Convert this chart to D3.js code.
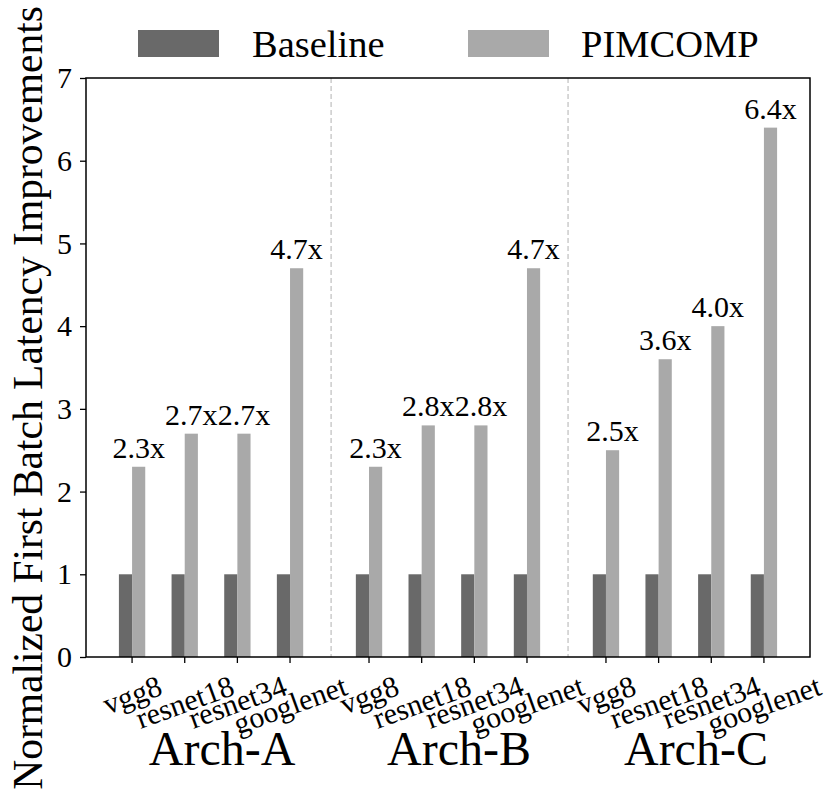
<!DOCTYPE html>
<html>
<head>
<meta charset="utf-8">
<script src="https://cdn.jsdelivr.net/npm/d3@7"></script>
<style>
  body { margin: 0; background: #fff; }
  text { font-family: "Liberation Serif", "DejaVu Serif", serif; fill: #000; }
</style>
</head>
<body>
<div id="chart"></div>
<script>
const archs = ['Arch-A', 'Arch-B', 'Arch-C']
const models = ['vgg8', 'resnet18', 'resnet34', 'googlenet']
const baseline = [
  [1, 1, 1, 1],
  [1, 1, 1, 1],
  [1, 1, 1, 1]
]
const pimcomp = [
  [2.3, 2.7, 2.7, 4.7],
  [2.3, 2.8, 2.8, 4.7],
  [2.5, 3.6, 4.0, 6.4]
]
const yTicks = [0, 1, 2, 3, 4, 5, 6, 7]
const seriesNames = ['Baseline', 'PIMCOMP']
const colors = ['#696969', '#a9a9a9']

const W = 830
const H = 791
const pLeft = 86, pRight = 810, pTop = 78, pBottom = 657

const svg = d3.select('#chart').append('svg').attr('width', W).attr('height', H)

// group g, model i -> position g*4.5 + i
const pos = (g, i) => g * 4.5 + i
const x = d3.scaleLinear([-0.875, 12.875], [pLeft, pRight])
const y = d3.scaleLinear([0, 7], [pBottom, pTop])
const bw = x(0.25) - x(0)

const rows = []
archs.forEach((a, g) => {
  models.forEach((m, i) => {
    rows.push({ g, i, model: m, base: baseline[g][i], pim: pimcomp[g][i] })
  })
})

// separators between architectures
svg.selectAll('line.sep')
  .data([1, 2])
  .enter()
  .append('line')
  .attr('x1', (g) => x(g * 4.5 - 0.72))
  .attr('x2', (g) => x(g * 4.5 - 0.72))
  .attr('y1', pTop)
  .attr('y2', pBottom)
  .attr('stroke', '#c4c4c4')
  .attr('stroke-width', 1.3)
  .attr('stroke-dasharray', '5,3')

// bars
svg.selectAll('rect.base')
  .data(rows)
  .enter()
  .append('rect')
  .attr('x', (d) => x(pos(d.g, d.i)) - bw)
  .attr('y', (d) => y(d.base))
  .attr('width', bw)
  .attr('height', (d) => y(0) - y(d.base))
  .attr('fill', colors[0])

svg.selectAll('rect.pim')
  .data(rows)
  .enter()
  .append('rect')
  .attr('x', (d) => x(pos(d.g, d.i)))
  .attr('y', (d) => y(d.pim))
  .attr('width', bw)
  .attr('height', (d) => y(0) - y(d.pim))
  .attr('fill', colors[1])

// value labels
svg.selectAll('text.val')
  .data(rows)
  .enter()
  .append('text')
  .attr('x', (d) => x(pos(d.g, d.i)) + bw / 2)
  .attr('y', (d) => y(d.pim) - 9)
  .attr('text-anchor', 'middle')
  .attr('font-size', 30)
  .text((d) => d.pim.toFixed(1) + 'x')

// frame
svg.append('rect')
  .attr('x', pLeft).attr('y', pTop)
  .attr('width', pRight - pLeft).attr('height', pBottom - pTop)
  .attr('fill', 'none').attr('stroke', '#000').attr('stroke-width', 1.5)

// y axis
const yAxis = svg.append('g').attr('transform', `translate(${pLeft},0)`)
  .call(d3.axisLeft(y).tickValues(yTicks).tickSize(6).tickPadding(8).tickFormat(d3.format('d')))
yAxis.select('.domain').remove()
yAxis.selectAll('line').attr('stroke', '#000').attr('stroke-width', 1.3)
yAxis.selectAll('text').attr('font-size', 30).attr('font-family', '"Liberation Serif", serif').attr('fill', '#000')

// x ticks
svg.selectAll('line.xt')
  .data(rows)
  .enter()
  .append('line')
  .attr('x1', (d) => x(pos(d.g, d.i)))
  .attr('x2', (d) => x(pos(d.g, d.i)))
  .attr('y1', pBottom)
  .attr('y2', pBottom + 6)
  .attr('stroke', '#000')
  .attr('stroke-width', 1.3)

// rotated model labels, bbox centred under the tick
const ang = 20 * Math.PI / 180
svg.selectAll('text.xl')
  .data(rows)
  .enter()
  .append('text')
  .attr('font-size', 30)
  .attr('text-anchor', 'middle')
  .attr('dy', '0.35em')
  .text((d) => d.model)
  .each(function (d) {
    const w = this.getComputedTextLength()
    const h = 24
    const hh = w * Math.sin(ang) + h * Math.cos(ang)
    d3.select(this).attr('transform',
      `translate(${x(pos(d.g, d.i))},${673 + hh / 2}) rotate(-20)`)
  })

// architecture labels
svg.selectAll('text.arch')
  .data(archs)
  .enter()
  .append('text')
  .attr('x', (a, g) => x(pos(g, 1.5)) + 11)
  .attr('y', 765)
  .attr('text-anchor', 'middle')
  .attr('font-size', 48)
  .text((a) => a)

// y title
svg.append('text')
  .attr('transform', 'translate(42,398) rotate(-90)')
  .attr('text-anchor', 'middle')
  .attr('font-size', 41.5)
  .text('Normalized First Batch Latency Improvements')

// legend
const legX = [138, 468]
const leg = svg.selectAll('g.leg')
  .data(seriesNames)
  .enter()
  .append('g')
  .attr('transform', (d, i) => `translate(${legX[i]},30)`)
leg.append('rect')
  .attr('width', 81).attr('height', 27)
  .attr('fill', (d, i) => colors[i])
leg.append('text')
  .attr('x', (d, i) => i === 0 ? 114 : 113)
  .attr('y', 27)
  .attr('font-size', 38.5)
  .text((d) => d)
</script>
</body>
</html>
